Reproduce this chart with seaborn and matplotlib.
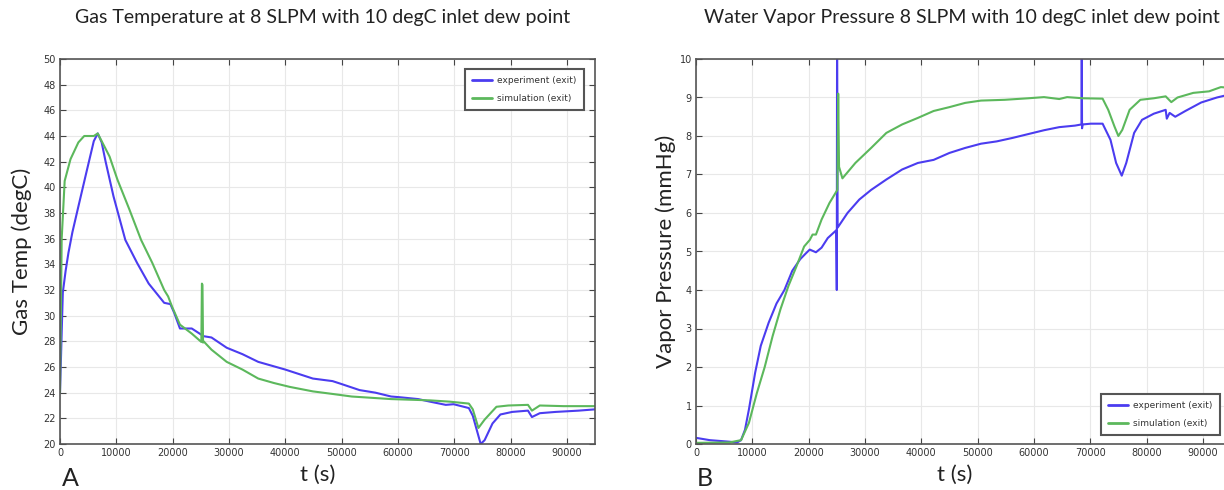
import numpy as np
import pandas as pd
import matplotlib
matplotlib.use("Agg")
import matplotlib.pyplot as plt
import seaborn as sns

# ---------------- data ----------------
# Panel A: gas temperature (degC)
t_exp_A = [0, 500, 1000, 1500, 2200, 3260, 4650, 6000, 6700, 7400, 8100, 9500, 11600, 13700, 15750, 18500,
           19600, 20300, 21300, 23400, 25500, 26900, 29600, 32400, 35200, 38000, 40000,
           44900, 48400, 49800, 53200, 56000, 58800, 60200, 63600, 65700, 68500, 69900,
           72600, 73300, 74700, 75400, 76800, 78200, 80300, 83100, 83800, 85200, 88000,
           92100, 95000]
y_exp_A = [24.0, 31.8, 33.5, 34.9, 36.5, 38.5, 41.1, 43.6, 44.2, 43.5, 42.0, 39.3, 35.9, 34.1, 32.5, 31.0,
           30.9, 30.2, 29.0, 29.0, 28.4, 28.3, 27.5, 27.0, 26.4, 26.05, 25.8,
           25.1, 24.9, 24.7, 24.2, 24.0, 23.7, 23.65, 23.5, 23.3, 23.05, 23.1,
           22.8, 22.2, 20.0, 20.3, 21.6, 22.3, 22.5, 22.6, 22.1, 22.4, 22.5,
           22.6, 22.7]

t_sim_A = [0, 300, 830, 1870, 3260, 4300, 6000, 6700, 8800, 10200, 12300, 14400, 16400,
           18500, 19200, 19900, 21300, 23400, 25100, 25200, 25300, 25400, 25500, 26900,
           29600, 32400, 35200, 38000, 40800, 44900, 48400, 51800, 55300, 58800, 65700,
           69200, 72600, 73300, 74300, 75400, 77500, 79600, 83100, 83800, 85200, 89400,
           95000]
y_sim_A = [24.0, 36.0, 40.5, 42.2, 43.5, 44.0, 44.0, 44.2, 42.4, 40.6, 38.3, 35.9, 34.1,
           32.0, 31.5, 30.7, 29.3, 28.6, 27.95, 32.5, 32.4, 27.9, 28.0, 27.35,
           26.4, 25.8, 25.1, 24.75, 24.45, 24.1, 23.9, 23.7, 23.6, 23.5, 23.4,
           23.3, 23.15, 22.7, 21.25, 21.9, 22.9, 23.0, 23.05, 22.6, 23.0, 22.95,
           22.95]

# Panel B: water vapor pressure (mmHg)
t_exp_B = [0, 2440, 5900, 7300, 8000, 8700, 9400, 10500, 11500, 12900, 14300, 15700,
           17100, 18500, 19500, 20200, 21300, 22300, 23400, 24900, 25000, 25050, 25150,
           26900, 29000, 31100, 33800, 36600, 39400, 42200, 45000, 47800, 50600, 53400,
           56200, 59000, 61800, 64500, 67300, 68450, 68500, 68550, 68650, 70100, 72200,
           73600, 74600, 75600, 76400, 77800, 79200, 81300, 83400, 83600, 84100, 85100,
           86900, 89700, 92500, 94500, 95000]
y_exp_B = [0.16, 0.1, 0.06, 0.04, 0.1, 0.37, 0.9, 1.85, 2.55, 3.15, 3.65, 4.0,
           4.5, 4.8, 4.95, 5.05, 4.98, 5.1, 5.35, 5.55, 4.0, 10.5, 5.62,
           6.0, 6.35, 6.6, 6.87, 7.13, 7.3, 7.38, 7.56, 7.69, 7.8, 7.86,
           7.95, 8.05, 8.15, 8.23, 8.27, 8.3, 10.5, 8.2, 8.3, 8.32, 8.32,
           7.9, 7.3, 6.97, 7.3, 8.08, 8.42, 8.58, 8.68, 8.45, 8.6, 8.5,
           8.65, 8.87, 9.0, 9.07, 9.08]

t_sim_B = [0, 5900, 8000, 9400, 10800, 12200, 13600, 15000, 16400, 17800, 19200, 20200,
           20700, 21300, 22300, 23700, 25100, 25250, 25400, 26000, 28300, 31100, 33800,
           36600, 39400, 42200, 45000, 47800, 50600, 54800, 59000, 61800, 64500, 65900,
           68700, 72200, 73200, 74300, 75000, 75700, 77000, 78900, 81300, 83400, 84400,
           85500, 88300, 91100, 93200, 95000]
y_sim_B = [0.03, 0.04, 0.1, 0.55, 1.32, 2.0, 2.8, 3.5, 4.1, 4.6, 5.13, 5.3,
           5.44, 5.44, 5.83, 6.26, 6.6, 9.1, 7.2, 6.9, 7.3, 7.69, 8.08,
           8.3, 8.47, 8.65, 8.75, 8.86, 8.92, 8.94, 8.98, 9.01, 8.96, 9.01,
           8.98, 8.97, 8.68, 8.25, 8.0, 8.16, 8.68, 8.94, 8.98, 9.03, 8.88,
           9.0, 9.12, 9.16, 9.27, 9.25]

series_labels = ["experiment (exit)", "simulation (exit)"]
titles = ["Gas Temperature at 8 SLPM with 10 degC inlet dew point",
          "Water Vapor Pressure 8 SLPM with 10 degC inlet dew point"]
ylabels = ["Gas Temp (degC)", "Vapor Pressure (mmHg)"]
xlabel = "t (s)"
panel_letters = ["A", "B"]
x_ticks = [0, 10000, 20000, 30000, 40000, 50000, 60000, 70000, 80000, 90000]
y_ticks_A = [20, 22, 24, 26, 28, 30, 32, 34, 36, 38, 40, 42, 44, 46, 48, 50]
y_ticks_B = [0, 1, 2, 3, 4, 5, 6, 7, 8, 9, 10]

# ---------------- style ----------------
sns.set_theme(style="whitegrid")
plt.rcParams["font.family"] = ["DejaVu Sans"]
palette = {series_labels[0]: "#4b3cf0", series_labels[1]: "#5cb85c"}

def make_df(t1, y1, t2, y2):
    return pd.concat([
        pd.DataFrame({"t": t1, "y": y1, "series": series_labels[0]}),
        pd.DataFrame({"t": t2, "y": y2, "series": series_labels[1]}),
    ], ignore_index=True)

dfA = make_df(t_exp_A, y_exp_A, t_sim_A, y_sim_A)
dfB = make_df(t_exp_B, y_exp_B, t_sim_B, y_sim_B)

W, H = 1224, 490
fig = plt.figure(figsize=(W / 100, H / 100), dpi=100)
fig.patch.set_facecolor("white")

axA = fig.add_axes([60 / W, (H - 444) / H, 535 / W, 385 / H])
axB = fig.add_axes([696 / W, (H - 444) / H, 535 / W, 385 / H])

title_font = ["Lato", "DejaVu Sans"]

def style_axes(ax, df, yticks, ylim, title, ylabel, letter, legend_loc, legend_anchor,
               title_x, ylabel_x, xlabel_x, letter_x):
    sns.lineplot(data=df, x="t", y="y", hue="series", palette=palette, ax=ax,
                 estimator=None, sort=False, units="series", linewidth=1.5, legend=True)
    ax.set_xlim(0, 95000)
    ax.set_ylim(*ylim)
    ax.set_xticks(x_ticks)
    ax.set_yticks(yticks)
    ax.set_xticklabels([str(v) for v in x_ticks])
    ax.set_yticklabels([str(v) for v in yticks])
    ax.tick_params(axis="both", which="both", direction="in", length=4, width=0.8,
                   color="#444444", labelsize=7, labelcolor="#333333",
                   top=True, right=True, bottom=True, left=True, pad=3)
    ax.grid(True, color="#e8e8e8", linewidth=0.8)
    ax.set_facecolor("white")
    for s in ax.spines.values():
        s.set_color("#555555")
        s.set_linewidth(1.2)
        s.set_visible(True)
    ax.set_xlabel("")
    ax.set_ylabel(ylabel, fontsize=16, family=title_font, color="#222222")
    ax.yaxis.set_label_coords(ylabel_x, 0.5)
    fig.text(xlabel_x / W, 1 - 475 / H, xlabel, ha="center", va="center",
             fontsize=16, family=title_font, color="#222222")
    fig.text(letter_x / W, 1 - 478 / H, letter, ha="center", va="center",
             fontsize=18, family=title_font, color="#222222")
    fig.text(title_x / W, 1 - 18 / H, title, ha="center", va="center",
             fontsize=14, family=title_font, color="#222222")
    leg = ax.legend(title=None, loc=legend_loc, bbox_to_anchor=legend_anchor,
                    fontsize=6.5, frameon=True, fancybox=False, shadow=False,
                    handlelength=2.2, handletextpad=0.6, borderpad=0.8, labelspacing=1.0,
                    borderaxespad=0.0, edgecolor="#555555", framealpha=1)
    leg.get_frame().set_linewidth(1.5)
    for line in leg.get_lines():
        line.set_linewidth(2.0)
    for txt in leg.get_texts():
        txt.set_color("#333333")

style_axes(axA, dfA, y_ticks_A, (20, 50), titles[0], ylabels[0], panel_letters[0],
           "upper right", (0.979, 0.974), 323, -0.052, 318, 70)
style_axes(axB, dfB, y_ticks_B, (0, 10), titles[1], ylabels[1], panel_letters[1],
           "lower right", (0.979, 0.023), 962, -0.037, 955, 705)

fig.savefig("out.png", dpi=100)
